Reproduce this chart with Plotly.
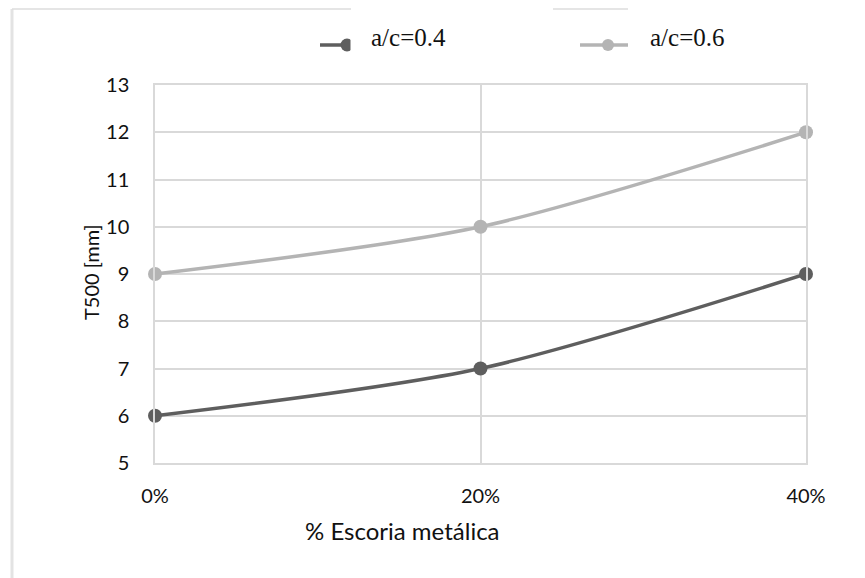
import plotly.graph_objects as go

categories = ["0%", "20%", "40%"]
series_names = ["a/c=0.4", "a/c=0.6"]
ac04 = [6, 7, 9]
ac06 = [9, 10, 12]
y_ticks = [5, 6, 7, 8, 9, 10, 11, 12, 13]

W, H = 865, 578
L, R, T, B = 155, 806, 85, 463


def px(xp):
    return (xp - L) / (R - L)


def py(yp):
    return (B - yp) / (B - T)


DARK = "#5e5e5e"
LIGHT = "#b4b4b4"
GRID = "#d9d9d9"
SANS = "Lato, 'Open Sans', sans-serif"
SERIF = "'Liberation Serif', 'Times New Roman', serif"
TXT = "#111111"

fig = go.Figure()
for name, vals, col in [(series_names[0], ac04, DARK), (series_names[1], ac06, LIGHT)]:
    fig.add_trace(go.Scatter(
        x=categories, y=vals, name=name, mode="lines+markers",
        line=dict(color=col, width=3.5, shape="spline", smoothing=0.8),
        marker=dict(color=col, size=14),
        showlegend=False, cliponaxis=False,
    ))

fig.update_layout(
    width=W, height=H, autosize=False,
    margin=dict(l=L, r=W - R, t=T, b=H - B),
    plot_bgcolor="white", paper_bgcolor="white",
    font=dict(family=SANS, color=TXT),
    xaxis=dict(type="category", categoryorder="array", categoryarray=categories,
               range=[0, len(categories) - 1], showgrid=True, gridcolor=GRID, gridwidth=1.5,
               showline=True, linecolor=GRID, linewidth=1.5, mirror=True,
               ticks="", ticklabelstandoff=14, tickfont=dict(size=20, family=SANS, color=TXT),
               zeroline=False),
    yaxis=dict(range=[y_ticks[0], y_ticks[-1]], tickvals=y_ticks, showgrid=True, gridcolor=GRID,
               gridwidth=1.5, showline=True, linecolor=GRID, linewidth=1.5, mirror=True,
               ticks="", ticklabelstandoff=20, tickfont=dict(size=20, family=SANS, color=TXT),
               zeroline=False),
)

ann = [
    dict(text="T500 [mm]", x=px(91), y=py(272), textangle=-90, font=dict(size=20, family=SANS)),
    dict(text="% Escoria metálica", x=px(402), y=py(530), font=dict(size=24, family=SANS)),
    dict(text=series_names[0], x=px(369), y=py(37), xanchor="left", font=dict(size=25, family=SERIF, color=TXT)),
    dict(text=series_names[1], x=px(648), y=py(37), xanchor="left", font=dict(size=25, family=SERIF, color=TXT)),
]
for a in ann:
    a.setdefault("xanchor", "center")
    fig.add_annotation(xref="paper", yref="paper", yanchor="middle", showarrow=False, **a)

shapes = [
    # outer frame fragments
    dict(type="line", x0=px(12), x1=px(12), y0=py(9), y1=py(580), line=dict(color="#e3e3e3", width=3)),
    dict(type="line", x0=px(12), x1=px(351), y0=py(9), y1=py(9), line=dict(color="#dcdcdc", width=1.3)),
    dict(type="line", x0=px(553), x1=px(628), y0=py(9), y1=py(9), line=dict(color="#dcdcdc", width=1.3)),
    # legend symbols
    dict(type="line", x0=px(320), x1=px(348), y0=py(45), y1=py(45), line=dict(color=DARK, width=3.5)),
    dict(type="circle", x0=px(340.5), x1=px(353.5), y0=py(38.5), y1=py(51.5), fillcolor=DARK, line=dict(width=0)),
    dict(type="rect", x0=px(350.5), x1=px(362), y0=py(36), y1=py(54), fillcolor="white", line=dict(width=0)),
    dict(type="line", x0=px(580), x1=px(628), y0=py(45), y1=py(45), line=dict(color=LIGHT, width=3.5)),
    dict(type="circle", x0=px(602), x1=px(614), y0=py(39), y1=py(51), fillcolor=LIGHT, line=dict(width=0)),
]
for s in shapes:
    fig.add_shape(xref="paper", yref="paper", layer="above", **s)

fig.write_html("out.html")
